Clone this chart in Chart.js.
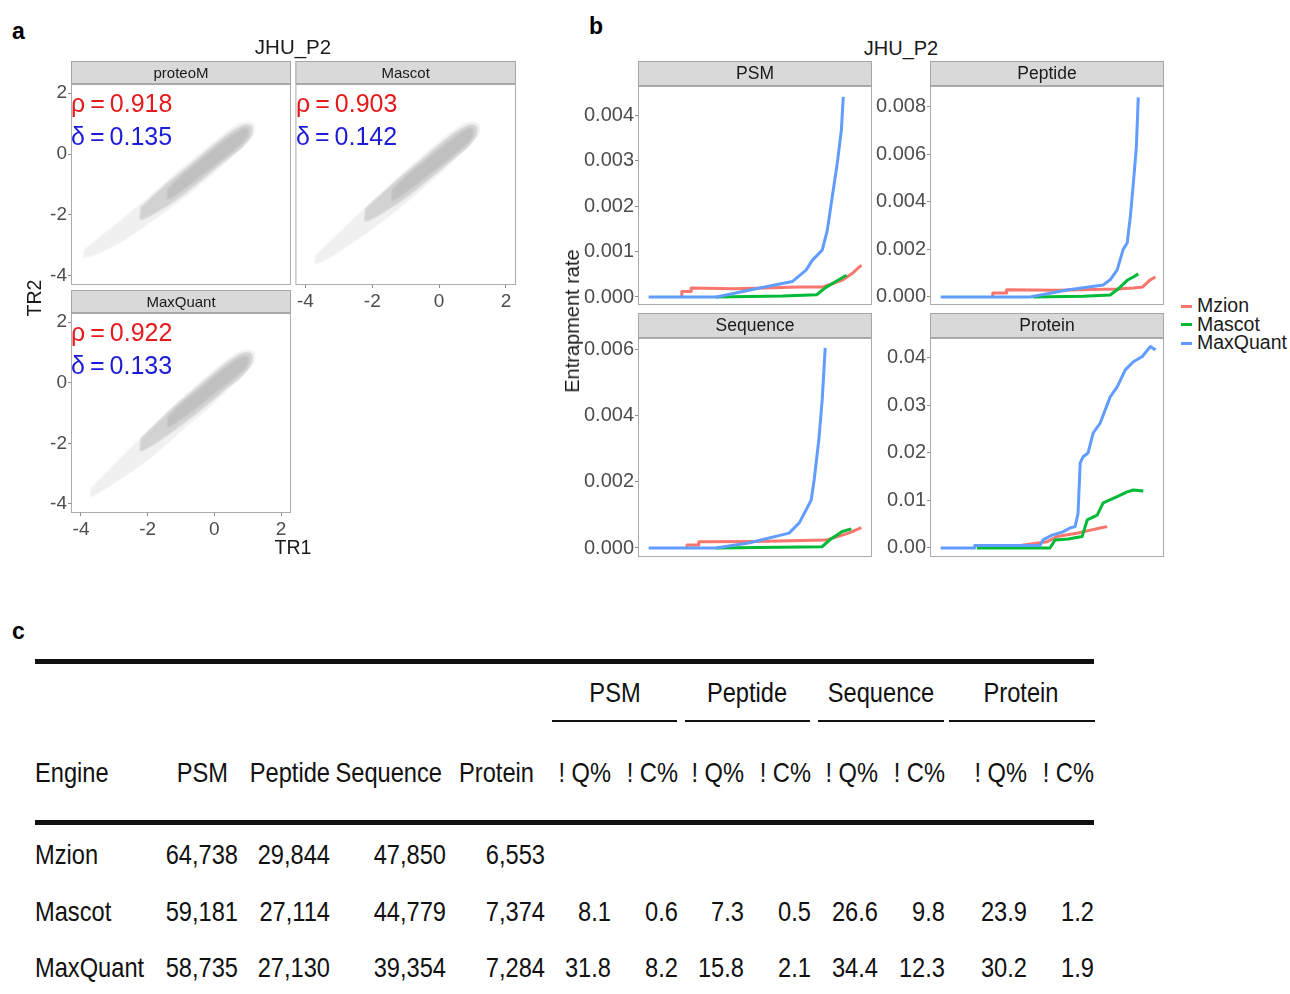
<!DOCTYPE html>
<html>
<head>
<meta charset="utf-8">
<script src="https://cdn.jsdelivr.net/npm/chart.js@4.4.0/dist/chart.umd.min.js"></script>
<style>
  html, body { margin:0; padding:0; background:#fff; }
  #page { position:relative; width:1290px; height:994px; overflow:hidden; font-family:"Liberation Sans", Arial, sans-serif; }
  canvas { position:absolute; }
  .t { position:absolute; white-space:nowrap; line-height:1; }
  .tbl { font-family:"Liberation Sans", Arial, sans-serif; font-size:28px; color:#111; }
  .rule { position:absolute; background:#111; }
</style>
</head>
<body>
<div id="page"></div>
<script>
// ---- panel a: log ratios TR2 vs TR1 (cloud outlines) ----
const scatterTicks = [-4, -2, 0, 2];
const cloudEngines = ['proteoM', 'Mascot', 'MaxQuant'];
const rhoValues = [0.918, 0.903, 0.922];
const deltaValues = [0.135, 0.142, 0.133];

const tailProteoM = [[-3.9,-3.15],[-3,-2.35],[-2,-1.45],[-1,-0.5],[0,0.4],[0.6,0.9],[1.0,1.05],[1.2,0.95],[1.15,0.6],[0.7,0.1],[0,-0.6],[-1,-1.5],[-2,-2.3],[-3,-3.0],[-3.9,-3.4],[-3.9,-3.15]];
const midProteoM = [[-2.2,-1.75],[-1.5,-1.05],[-1,-0.6],[-0.5,-0.15],[0,0.3],[0.5,0.72],[0.9,0.95],[1.12,0.9],[1.1,0.6],[0.8,0.2],[0.4,-0.15],[0,-0.5],[-0.5,-0.95],[-1,-1.38],[-1.5,-1.75],[-2.2,-2.15],[-2.2,-1.75]];
const coreProteoM = [[-1.4,-1.15],[-1,-0.72],[-0.5,-0.27],[0,0.18],[0.5,0.6],[0.9,0.85],[1.02,0.8],[0.95,0.5],[0.5,0.05],[0,-0.38],[-0.5,-0.8],[-1,-1.22],[-1.4,-1.48],[-1.4,-1.15]];

const tailMascot = [[-3.7,-3.35],[-3,-2.6],[-2,-1.55],[-1,-0.55],[0,0.4],[0.6,0.9],[1.0,1.05],[1.2,0.95],[1.15,0.6],[0.7,0.1],[0,-0.65],[-1,-1.6],[-2,-2.45],[-3,-3.2],[-3.7,-3.6],[-3.7,-3.35]];
const midMascot = [[-2.2,-1.8],[-1.5,-1.1],[-1,-0.62],[-0.5,-0.17],[0,0.3],[0.5,0.72],[0.9,0.95],[1.12,0.9],[1.1,0.6],[0.8,0.18],[0.4,-0.18],[0,-0.55],[-0.5,-1.0],[-1,-1.43],[-1.5,-1.8],[-2.2,-2.2],[-2.2,-1.8]];
const coreMascot = [[-1.4,-1.17],[-1,-0.74],[-0.5,-0.29],[0,0.16],[0.5,0.58],[0.9,0.85],[1.02,0.8],[0.95,0.48],[0.5,0.02],[0,-0.41],[-0.5,-0.84],[-1,-1.26],[-1.4,-1.52],[-1.4,-1.17]];

const tailMaxQuant = [[-3.7,-3.5],[-3,-2.7],[-2,-1.6],[-1,-0.55],[0,0.42],[0.6,0.92],[1.0,1.08],[1.2,0.98],[1.15,0.62],[0.7,0.1],[0,-0.65],[-1,-1.6],[-2,-2.55],[-3,-3.3],[-3.7,-3.75],[-3.7,-3.5]];
const midMaxQuant = [[-2.2,-1.85],[-1.5,-1.1],[-1,-0.6],[-0.5,-0.14],[0,0.32],[0.5,0.75],[0.9,0.98],[1.12,0.93],[1.1,0.62],[0.8,0.2],[0.4,-0.15],[0,-0.52],[-0.5,-0.98],[-1,-1.4],[-1.5,-1.8],[-2.2,-2.25],[-2.2,-1.85]];
const coreMaxQuant = [[-1.4,-1.15],[-1,-0.7],[-0.5,-0.25],[0,0.2],[0.5,0.63],[0.9,0.88],[1.02,0.83],[0.95,0.52],[0.5,0.07],[0,-0.36],[-0.5,-0.8],[-1,-1.2],[-1.4,-1.46],[-1.4,-1.15]];

// ---- panel b: entrapment rate curves ----
const psmTicks = [0, 0.001, 0.002, 0.003, 0.004];
const peptideTicks = [0, 0.002, 0.004, 0.006, 0.008];
const sequenceTicks = [0, 0.002, 0.004, 0.006];
const proteinTicks = [0, 0.01, 0.02, 0.03, 0.04];

const psmMzion = [[0.156,0],[0.156,0.00012],[0.2,0.00012],[0.2,0.0002],[0.4,0.00018],[0.55,0.0002],[0.7,0.00022],[0.82,0.00022],[0.91,0.00037],[0.96,0.00053],[1.0,0.0007]];
const psmMascot = [[0.316,0],[0.63,0.00002],[0.79,0.00005],[0.83,0.0002],[0.88,0.00034],[0.93,0.00048]];
const psmMaxQuant = [[0,0],[0.32,0],[0.47,0.00015],[0.675,0.00034],[0.74,0.00059],[0.77,0.00081],[0.816,0.00103],[0.84,0.00147],[0.863,0.0022],[0.887,0.00295],[0.906,0.00367],[0.915,0.0044]];

const peptideMzion = [[0.245,0],[0.245,0.00017],[0.31,0.00017],[0.31,0.0003],[0.55,0.00028],[0.83,0.00033],[0.906,0.00038],[0.95,0.00042],[0.985,0.00072],[1.01,0.00084]];
const peptideMascot = [[0.434,0],[0.67,0.00003],[0.797,0.00008],[0.83,0.0003],[0.877,0.0007],[0.906,0.00084],[0.929,0.00097]];
const peptideMaxQuant = [[0,0],[0.42,0],[0.594,0.00029],[0.764,0.0005],[0.797,0.00072],[0.83,0.00114],[0.858,0.002],[0.877,0.00227],[0.892,0.0034],[0.906,0.0048],[0.92,0.0063],[0.929,0.0084]];

const sequenceMzion = [[0.18,0],[0.18,0.00009],[0.236,0.00009],[0.236,0.00019],[0.5,0.0002],[0.835,0.00024],[0.94,0.00045],[1.0,0.00062]];
const sequenceMascot = [[0.316,0],[0.816,0.00004],[0.85,0.00024],[0.91,0.0005],[0.953,0.00058]];
const sequenceMaxQuant = [[0,0],[0.316,0],[0.47,0.00015],[0.66,0.00045],[0.708,0.00076],[0.74,0.00115],[0.764,0.00145],[0.778,0.00206],[0.80,0.00327],[0.816,0.0045],[0.83,0.00606]];

const proteinMzion = [[0.382,0.0006],[0.5,0.0013],[0.547,0.0024],[0.64,0.0031],[0.689,0.0036],[0.75,0.0042],[0.783,0.0045]];
const proteinMascot = [[0.17,0],[0.514,0],[0.538,0.0017],[0.6,0.0019],[0.665,0.0024],[0.689,0.0059],[0.736,0.0069],[0.764,0.0095],[0.83,0.0108],[0.877,0.0118],[0.906,0.0122],[0.953,0.012]];
const proteinMaxQuant = [[0,0],[0.16,0],[0.16,0.0005],[0.467,0.0005],[0.481,0.0017],[0.524,0.0027],[0.575,0.0034],[0.608,0.0042],[0.632,0.0045],[0.646,0.0073],[0.656,0.0179],[0.67,0.0192],[0.693,0.02],[0.717,0.0242],[0.75,0.0263],[0.797,0.0318],[0.83,0.0339],[0.868,0.0375],[0.906,0.0392],[0.948,0.0403],[0.986,0.0424],[1.01,0.0417]];

const engineNames = ['Mzion', 'Mascot', 'MaxQuant'];
const engineColors = ['#F8766D', '#00BA38', '#619CFF'];

// ---- panel c: table ----
const psmCount = [64738, 59181, 58735];
const peptideCount = [29844, 27114, 27130];
const sequenceCount = [47850, 44779, 39354];
const proteinCount = [6553, 7374, 7284];
const psmQ = [null, 8.1, 31.8], psmC = [null, 0.6, 8.2];
const peptideQ = [null, 7.3, 15.8], peptideC = [null, 0.5, 2.1];
const sequenceQ = [null, 26.6, 34.4], sequenceC = [null, 9.8, 12.3];
const proteinQ = [null, 23.9, 30.2], proteinC = [null, 1.2, 1.9];
const levelNames = ['PSM', 'Peptide', 'Sequence', 'Protein'];

Chart.defaults.font.family = '"Liberation Sans", Arial, sans-serif';
Chart.defaults.color = '#4d4d4d';

const page = document.getElementById('page');

function txt(s, x, y, style, align){
  const d = document.createElement('div');
  d.className = 't';
  d.textContent = s;
  Object.assign(d.style, style || {});
  d.style.left = x + 'px'; d.style.top = y + 'px';
  let tx = '0';
  if(align === 'center') tx = '-50%';
  if(align === 'right') tx = '-100%';
  d.style.transform = 'translate(' + tx + ',-50%)' + (style && style.rot ? ' rotate(-90deg)' : '');
  page.appendChild(d);
  return d;
}

const stripPlugin = {
  id: 'strip',
  afterDraw(chart, args, opts){
    const ca = chart.chartArea, ctx = chart.ctx;
    ctx.save();
    ctx.strokeStyle = '#ababab'; ctx.lineWidth = 1;
    ctx.strokeRect(ca.left + 0.5, ca.top + 0.5, ca.right - ca.left - 1, ca.bottom - ca.top - 1);
    const h = opts.height;
    ctx.fillStyle = '#d9d9d9';
    ctx.fillRect(ca.left, ca.top - h, ca.right - ca.left, h);
    ctx.strokeStyle = '#a6a6a6';
    ctx.strokeRect(ca.left + 0.5, ca.top - h + 0.5, ca.right - ca.left - 1, h - 1);
    ctx.fillStyle = '#1a1a1a';
    ctx.font = opts.size + 'px "Liberation Sans", Arial, sans-serif';
    ctx.textAlign = 'center'; ctx.textBaseline = 'middle';
    ctx.fillText(opts.label, (ca.left + ca.right) / 2, ca.top - h / 2 + 1);
    ctx.restore();
  }
};

function facet(box, datasets, xr, yr, xTicks, yTicks, yFmt, label, stripSize){
  const c = document.createElement('canvas');
  const padB = box.xH > 0 ? 2 : 14;
  const w = box.yW + (box.r - box.l) + 2;
  const h = box.s + (box.b - box.t) + box.xH + padB;
  c.width = w; c.height = h;
  c.style.left = (box.l - box.yW) + 'px';
  c.style.top = (box.t - box.s) + 'px';
  page.appendChild(c);
  const axisGrid = { display: true, drawOnChartArea: false, drawTicks: true, tickLength: 3, color: '#8c8c8c' };
  new Chart(c, {
    type: 'line',
    data: { datasets },
    options: {
      responsive: false, animation: false, devicePixelRatio: 1,
      layout: { padding: { left: 0, top: box.s, right: 2, bottom: padB } },
      plugins: { legend: { display: false }, tooltip: { enabled: false }, strip: { label, height: box.s, size: stripSize } },
      elements: { point: { radius: 0 }, line: { tension: 0 } },
      scales: {
        x: {
          type: 'linear', min: xr[0], max: xr[1], display: box.xH > 0,
          grid: axisGrid, border: { display: false },
          ticks: { font: { size: box.fs }, padding: 2, maxRotation: 0, color: '#4d4d4d' },
          afterBuildTicks: s => { s.ticks = xTicks.map(v => ({ value: v })); },
          afterFit: s => { s.height = box.xH; }
        },
        y: {
          type: 'linear', min: yr[0], max: yr[1], display: box.yW > 0,
          grid: axisGrid, border: { display: false },
          ticks: { font: { size: box.fs }, padding: 1, color: '#4d4d4d', callback: v => yFmt(v) },
          afterBuildTicks: s => { s.ticks = yTicks.map(v => ({ value: v })); },
          afterFit: s => { s.width = box.yW; }
        }
      }
    },
    plugins: [stripPlugin]
  });
}

const pts = a => a.map(p => ({ x: p[0], y: p[1] }));
function cloud(tail, mid, core){
  return [
    { data: pts(core), fill: 'shape', tension: 0.3, backgroundColor: '#c0c0c0', borderColor: '#c8c8c8', borderWidth: 1.5 },
    { data: pts(mid), fill: 'shape', tension: 0.3, backgroundColor: '#d2d2d2', borderColor: '#dcdcdc', borderWidth: 1.5 },
    { data: pts(tail), fill: 'shape', tension: 0.3, backgroundColor: '#f0f0f0', borderColor: '#f4f4f4', borderWidth: 1.5 }
  ];
}
const intFmt = v => String(v);
const rangeA = [-4.3, 2.3];

facet({ l: 71, t: 84, r: 291, b: 285, s: 23, yW: 41, xH: 0, fs: 19 }, cloud(tailProteoM, midProteoM, coreProteoM), rangeA, rangeA, scatterTicks, scatterTicks, intFmt, cloudEngines[0], 15);
facet({ l: 295, t: 84, r: 516, b: 285, s: 23, yW: 0, xH: 28, fs: 19 }, cloud(tailMascot, midMascot, coreMascot), rangeA, rangeA, scatterTicks, scatterTicks, intFmt, cloudEngines[1], 15);
facet({ l: 71, t: 313, r: 291, b: 513, s: 23, yW: 41, xH: 28, fs: 19 }, cloud(tailMaxQuant, midMaxQuant, coreMaxQuant), rangeA, rangeA, scatterTicks, scatterTicks, intFmt, cloudEngines[2], 15);

const statPos = [[71, 103], [296, 103], [71, 332]];
statPos.forEach((p, i) => {
  txt('\u03C1\u2009=\u2009' + rhoValues[i].toFixed(3), p[0], p[1], { fontSize: '25px', color: '#e41a1c' });
  txt('\u03B4\u2009=\u2009' + deltaValues[i].toFixed(3), p[0], p[1] + 33, { fontSize: '25px', color: '#1c1cd6' });
});

function lines(mz, ma, mq){
  return [mz, ma, mq].map((d, i) => ({
    data: pts(d), borderColor: engineColors[i], borderWidth: 3, fill: false, order: 2 - i,
    borderJoinStyle: 'round', borderCapStyle: 'butt'
  }));
}
const rangeB = [-0.05, 1.05];
facet({ l: 638, t: 86, r: 872, b: 305, s: 25, yW: 56, xH: 0, fs: 20 }, lines(psmMzion, psmMascot, psmMaxQuant), rangeB, [-0.000176, 0.00464], [], psmTicks, v => v.toFixed(3), levelNames[0], 17.5);
facet({ l: 930, t: 86, r: 1164, b: 305, s: 25, yW: 56, xH: 0, fs: 20 }, lines(peptideMzion, peptideMascot, peptideMaxQuant), rangeB, [-0.00034, 0.00888], [], peptideTicks, v => v.toFixed(3), levelNames[1], 17.5);
facet({ l: 638, t: 338, r: 872, b: 557, s: 25, yW: 56, xH: 0, fs: 20 }, lines(sequenceMzion, sequenceMascot, sequenceMaxQuant), rangeB, [-0.000273, 0.00636], [], sequenceTicks, v => v.toFixed(3), levelNames[2], 17.5);
facet({ l: 930, t: 338, r: 1164, b: 557, s: 25, yW: 56, xH: 0, fs: 20 }, lines(proteinMzion, proteinMascot, proteinMaxQuant), rangeB, [-0.0019, 0.0442], [], proteinTicks, v => v.toFixed(2), levelNames[3], 17.5);

// titles, axis names, legend
txt('a', 12, 31, { fontSize: '23px', fontWeight: 'bold', color: '#000' });
txt('b', 589, 26, { fontSize: '23px', fontWeight: 'bold', color: '#000' });
txt('c', 12, 631, { fontSize: '23px', fontWeight: 'bold', color: '#000' });
txt('JHU_P2', 293, 47, { fontSize: '20.5px', color: '#1a1a1a' }, 'center');
txt('JHU_P2', 901, 48, { fontSize: '20px', color: '#1a1a1a' }, 'center');
txt('TR1', 293, 548, { fontSize: '19.5px', color: '#1a1a1a' }, 'center');
txt('TR2', 35, 298, { fontSize: '19.5px', color: '#1a1a1a', rot: true }, 'center');
txt('Entrapment rate', 572, 321, { fontSize: '20px', color: '#1a1a1a', rot: true }, 'center');
engineNames.forEach((n, i) => {
  const y = 306 + i * 18.5;
  const k = document.createElement('div');
  Object.assign(k.style, { position: 'absolute', left: '1181px', top: (y - 1.5) + 'px', width: '11px', height: '3px', background: engineColors[i] });
  page.appendChild(k);
  txt(n, 1197, y, { fontSize: '19.5px', color: '#1a1a1a' });
});

// ---- table (panel c) ----
const colRight = [238, 330, 446, 545, 611, 678, 744, 811, 878, 945, 1027, 1094];
const headRight = [228, 330, 442, 534];
const groupCenter = [615, 747, 881, 1021];
const groupSpan = [[552, 677], [685, 810], [818, 944], [949, 1095]];
const rowY = [855, 912, 968];
const narrow = 0.845;
function cell(s, x, y, align){
  const d = txt(s, x, y, {}, align);
  d.classList.add('tbl');
  const tx = align === 'center' ? '-50%' : align === 'right' ? '-100%' : '0';
  d.style.transformOrigin = (align === 'center' ? 'center' : align === 'right' ? 'right' : 'left') + ' center';
  d.style.transform = 'translate(' + tx + ',-50%) scaleX(' + narrow + ')';
}

function rule(x0, x1, y, h){
  const r = document.createElement('div');
  r.className = 'rule';
  Object.assign(r.style, { left: x0 + 'px', width: (x1 - x0) + 'px', top: y + 'px', height: h + 'px' });
  page.appendChild(r);
}
rule(35, 1094, 659, 5);
rule(35, 1094, 820, 5);
groupSpan.forEach(g => rule(g[0], g[1], 720, 2));
levelNames.forEach((n, i) => cell(n, groupCenter[i], 693, 'center'));
cell('Engine', 35, 773);
levelNames.forEach((n, i) => cell(n, headRight[i], 773, 'right'));
for (let i = 0; i < 8; i++) cell(i % 2 ? '! C%' : '! Q%', colRight[4 + i], 773, 'right');

const fmtInt = v => v.toLocaleString('en-US');
const tableCols = [psmCount, peptideCount, sequenceCount, proteinCount, psmQ, psmC, peptideQ, peptideC, sequenceQ, sequenceC, proteinQ, proteinC];
engineNames.forEach((n, r) => {
  cell(n, 35, rowY[r]);
  tableCols.forEach((col, j) => {
    const v = col[r];
    if (v === null) return;
    cell(j < 4 ? fmtInt(v) : v.toFixed(1), colRight[j], rowY[r], 'right');
  });
});
</script>
</body>
</html>
